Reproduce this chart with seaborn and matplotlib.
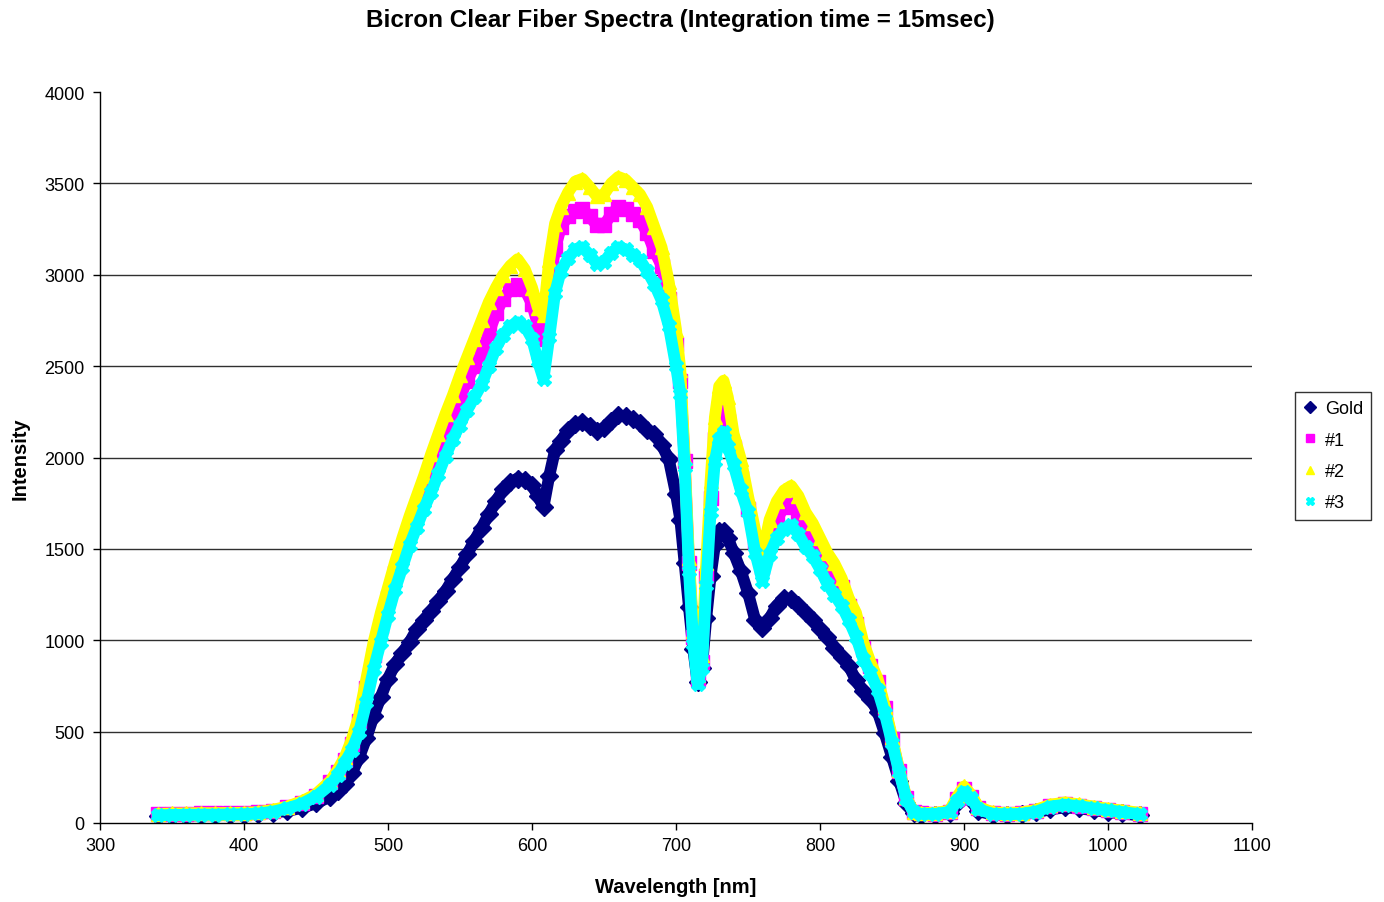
import matplotlib
matplotlib.use("Agg")
import numpy as np
import pandas as pd
import seaborn as sns
import matplotlib.pyplot as plt
from matplotlib.lines import Line2D

# ---------------- data ----------------
wavelength = [
    340, 350, 360, 370, 380, 390, 400, 410, 420, 430, 440, 450,
    460, 465, 470, 475, 480, 485, 490, 495, 500, 505, 510, 515, 520, 525,
    530, 535, 540, 545, 550, 555, 560, 565, 570, 575, 580, 585, 590, 595,
    600, 604, 608, 612, 616, 620, 625, 630, 635, 640, 645, 650, 655, 660,
    665, 670, 675, 680, 685, 690, 695,
    700, 703, 706, 709, 712, 715, 718, 721, 724, 727, 730, 733, 736, 740,
    745, 750, 755, 760, 765, 770, 775, 780, 785, 790, 795,
    800, 805, 810, 815, 820, 825, 830, 835, 840, 845, 850, 855, 860, 865,
    870, 880, 890, 895, 900, 905, 910, 920, 930, 940, 950, 960, 970, 980,
    990, 1000, 1010, 1022,
]

gold = [
    38, 40, 41, 42, 43, 44, 46, 50, 56, 66, 82, 108,
    145, 175, 215, 275, 360, 465, 585, 690, 790, 870, 930, 990, 1060, 1110,
    1160, 1215, 1270, 1335, 1400, 1470, 1545, 1615, 1690, 1760, 1825, 1865, 1885, 1875,
    1850, 1790, 1730, 1900, 2040, 2090, 2150, 2185, 2195, 2175, 2145, 2160, 2200, 2230,
    2225, 2210, 2190, 2150, 2130, 2070, 1990,
    1800, 1660, 1420, 1180, 950, 770, 850, 1120, 1350, 1520, 1600, 1600, 1560, 1480,
    1380, 1260, 1110, 1065, 1120, 1190, 1230, 1225, 1195, 1150, 1110,
    1060, 1020, 960, 910, 860, 780, 720, 680, 610, 490, 360, 230, 110, 55,
    45, 45, 55, 110, 160, 125, 65, 45, 45, 48, 58, 75, 85, 80,
    70, 60, 52, 42,
]

fiber1 = [
    48, 50, 51, 52, 52, 53, 54, 58, 68, 85, 110, 150,
    225, 280, 345, 430, 560, 740, 920, 1080, 1230, 1370, 1490, 1610, 1720, 1830,
    1930, 2030, 2140, 2240, 2330, 2420, 2500, 2570, 2680, 2790, 2870, 2920, 2945, 2920,
    2840, 2730, 2650, 2920, 3140, 3260, 3320, 3350, 3360, 3320, 3270, 3270, 3330, 3370,
    3360, 3330, 3300, 3230, 3130, 3050, 2870,
    2620, 2420, 1980, 1420, 1020, 790, 880, 1350, 1780, 2100, 2270, 2290, 2200, 2050,
    1890, 1720, 1540, 1400, 1560, 1660, 1730, 1745, 1700, 1620, 1560,
    1480, 1410, 1350, 1290, 1190, 1090, 960, 860, 770, 630, 460, 285, 135, 60,
    52, 50, 62, 130, 185, 145, 80, 52, 50, 52, 65, 95, 105, 95,
    83, 72, 62, 50,
]

fiber2 = [
    50, 52, 53, 54, 54, 55, 56, 60, 72, 90, 118, 158,
    230, 290, 360, 460, 590, 790, 990, 1150, 1290, 1430, 1560, 1680, 1790, 1900,
    2020, 2130, 2240, 2340, 2450, 2550, 2650, 2750, 2850, 2930, 3000, 3050, 3085, 3030,
    2930, 2820, 2780, 3080, 3280, 3370, 3450, 3510, 3525, 3480, 3430, 3440, 3500, 3535,
    3520, 3480, 3440, 3370, 3260, 3150, 2960,
    2700, 2480, 2000, 1450, 1050, 810, 920, 1420, 1870, 2220, 2390, 2420, 2330, 2130,
    1990, 1790, 1600, 1470, 1660, 1760, 1820, 1845, 1790, 1700, 1640,
    1560, 1480, 1420, 1340, 1230, 1150, 990, 880, 790, 640, 470, 290, 140, 62,
    55, 55, 68, 140, 200, 155, 88, 58, 55, 57, 72, 100, 112, 102,
    90, 78, 68, 56,
]

fiber3 = [
    42, 44, 45, 46, 46, 47, 48, 52, 62, 80, 105, 145,
    210, 260, 330, 400, 500, 660, 840, 990, 1140, 1280, 1400, 1520, 1620, 1720,
    1810, 1910, 2010, 2100, 2180, 2260, 2330, 2400, 2500, 2600, 2670, 2720, 2740, 2720,
    2650, 2530, 2430, 2660, 2900, 3020, 3090, 3140, 3150, 3110, 3060, 3070, 3120, 3150,
    3140, 3110, 3080, 3020, 2950, 2860, 2720,
    2500, 2350, 1950, 1380, 980, 760, 850, 1300, 1700, 1980, 2100, 2140, 2060, 1960,
    1820, 1700, 1480, 1325, 1470, 1560, 1610, 1630, 1580, 1510, 1460,
    1390, 1310, 1250, 1190, 1110, 1020, 900, 820, 730, 600, 440, 280, 130, 60,
    50, 50, 60, 120, 170, 135, 75, 50, 48, 50, 62, 90, 100, 92,
    80, 70, 60, 48,
]

series_names = ["Gold", "#1", "#2", "#3"]
series_values = [gold, fiber1, fiber2, fiber3]
colors = {"Gold": "#000080", "#1": "#FF00FF", "#2": "#FFFF00", "#3": "#00FFFF"}
markers = {"Gold": "D", "#1": "s", "#2": "^", "#3": "X"}

x_ticks = [300, 400, 500, 600, 700, 800, 900, 1000, 1100]
y_ticks = [0, 500, 1000, 1500, 2000, 2500, 3000, 3500, 4000]

# ---------------- build long table ----------------
frames = []
for name, vals in zip(series_names, series_values):
    n = min(len(wavelength), len(vals))
    frames.append(pd.DataFrame({"Wavelength": wavelength[:n],
                                "Intensity": vals[:n],
                                "Series": name}))
df = pd.concat(frames, ignore_index=True)

# ---------------- plot ----------------
sns.set_theme(style="white")
plt.rcParams["font.family"] = ["Liberation Sans", "DejaVu Sans"]
plt.rcParams["text.color"] = "black"
plt.rcParams["axes.labelcolor"] = "black"
plt.rcParams["xtick.color"] = "black"
plt.rcParams["ytick.color"] = "black"

fig = plt.figure(figsize=(13.84, 9.03), dpi=100)
ax = fig.add_axes([100 / 1384, 79 / 903, 1152 / 1384, 731 / 903])

for v in y_ticks[1:-1]:
    ax.axhline(v, color="#303030", lw=1.0, zorder=0)

n_grid = len(ax.lines)

sns.lineplot(data=df, x="Wavelength", y="Intensity", hue="Series",
             style="Series", hue_order=series_names, style_order=series_names,
             palette=colors, markers=markers, dashes=False, legend=False,
             estimator=None, sort=False, linewidth=8.5, markersize=9.5, ax=ax)

for line in ax.lines[n_grid:]:
    c = line.get_color()
    line.set_markeredgecolor(c)
    line.set_markerfacecolor(c)
    line.set_markeredgewidth(1.0)

ax.set_xlim(300, 1100)
ax.set_ylim(0, 4000)
ax.set_xticks(x_ticks)
ax.set_yticks(y_ticks)
ax.set_xticklabels([str(t) for t in x_ticks], fontsize=13)
ax.set_yticklabels([str(t) for t in y_ticks], fontsize=13)
ax.tick_params(axis="both", which="both", bottom=True, left=True,
               direction="out", length=5, width=1, color="black",
               labelcolor="black")
ax.tick_params(axis="y", pad=6)
ax.tick_params(axis="x", pad=5)
for s in ["top", "right"]:
    ax.spines[s].set_visible(False)
for s in ["left", "bottom"]:
    ax.spines[s].set_color("black")
    ax.spines[s].set_linewidth(1)
ax.set_xlabel("")
ax.set_ylabel("")
ax.set_facecolor("white")

fig.text(680 / 1384, 1 - 20 / 903,
         "Bicron Clear Fiber Spectra (Integration time = 15msec)",
         ha="center", va="center", fontsize=17.5, fontweight="bold",
         color="black")
fig.text(676 / 1384, 1 - 888 / 903, "Wavelength [nm]",
         ha="center", va="center", fontsize=14.5, fontweight="bold",
         color="black")
fig.text(20 / 1384, 1 - 459 / 903, "Intensity", rotation=90,
         ha="center", va="center", fontsize=14.5, fontweight="bold",
         color="black")

handles = [Line2D([], [], linestyle="None", marker=markers[n], color=colors[n],
                  markeredgecolor=colors[n], markersize=6)
           for n in series_names]
leg = fig.legend(handles, series_names, loc="upper left",
                 bbox_to_anchor=(1295 / 1384, 1 - 393 / 903),
                 frameon=True, fancybox=False, fontsize=13,
                 handlelength=0.8, handletextpad=0.4, labelspacing=0.8,
                 borderpad=0.45, borderaxespad=0)
leg.get_frame().set_edgecolor("black")
leg.get_frame().set_linewidth(1)
for t in leg.get_texts():
    t.set_color("black")

fig.savefig("out.png", dpi=100, facecolor="white")
